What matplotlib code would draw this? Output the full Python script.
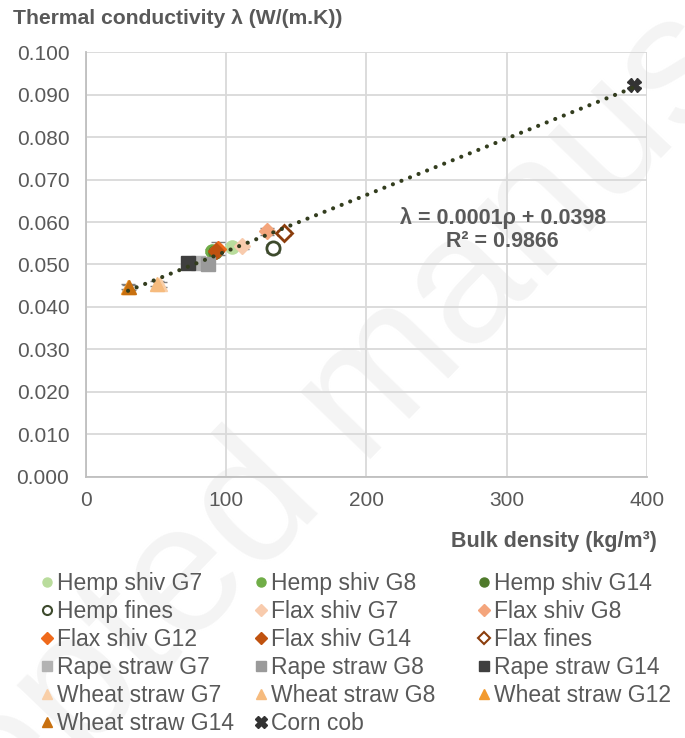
import numpy as np
import matplotlib.pyplot as plt
from matplotlib.lines import Line2D

plt.rcParams['font.family'] = ['Liberation Sans', 'DejaVu Sans']

# data
names = ['Hemp shiv G7', 'Hemp shiv G8', 'Hemp shiv G14', 'Hemp fines',
         'Flax shiv G7', 'Flax shiv G8', 'Flax shiv G12', 'Flax shiv G14',
         'Flax fines', 'Rape straw G7', 'Rape straw G8', 'Rape straw G14',
         'Wheat straw G7', 'Wheat straw G8', 'Wheat straw G12',
         'Wheat straw G14', 'Corn cob']
density = [104, 90, 92, 133, 111, 129, 94, 93, 141, 80, 87, 73, 53, 51, 30, 31, 391]
conductivity = [0.0542, 0.0532, 0.0530, 0.0538, 0.0543, 0.0578, 0.0537, 0.0532,
                0.0575, 0.0503, 0.0500, 0.0503, 0.0453, 0.0455, 0.0448, 0.0446, 0.0923]
error = [0.0006, 0.0005, 0.0005, 0.0008, 0.0007, 0.0008, 0.0015, 0.0005,
         0.0005, 0.0005, 0.0005, 0.0004, 0.0006, 0.0005, 0.0006, 0.0005, 0.0006]

colors = ['#b9dc9c', '#70ad47', '#4f7a2b', '#3d4a2c',
          '#f8cbad', '#f4a57c', '#ef6a1c', '#c0520f',
          '#8b3d0c', '#b3b3b3', '#9a9a9a', '#3f3f3f',
          '#f9cfa8', '#f6bb7e', '#f29a2e', '#c8700f', '#333333']
markers = ['o', 'o', 'o', 'o', 'D', 'D', 'D', 'D', 'D',
           's', 's', 's', '^', '^', '^', '^', 'X']
hollow = ['Hemp fines', 'Flax fines']

fig = plt.figure(figsize=(6.85, 7.38), dpi=100)
ax = fig.add_axes([0.1255, 0.3537, 0.819, 0.5758])
ax.patch.set_alpha(0)

# faint watermark behind everything
fig.text(0.52, 0.45, 'Accepted manuscript', fontsize=132, color='#f4f4f4',
         rotation=46, ha='center', va='center', zorder=-5)

handles = []
for i, n in enumerate(names):
    ms = 9.5 if markers[i] != 'D' else 8
    if n in hollow:
        fc, ec, mew = 'white', colors[i], 2
    else:
        fc, ec, mew = colors[i], colors[i], 1
    ax.errorbar(density[i], conductivity[i], yerr=error[i], fmt=markers[i],
                ms=ms, mfc=fc, mec=ec, mew=mew, ecolor='#7f7f7f',
                elinewidth=1, capsize=5, zorder=3)
    handles.append(Line2D([], [], ls='none', marker=markers[i],
                          ms=6.5 if markers[i] != 'X' else 8,
                          mfc=fc, mec=ec, mew=1.5 if n in hollow else 1,
                          label=n))

# linear trend line
slope, intercept = np.polyfit(density, conductivity, 1)
xs = np.array([min(density), max(density)])
ax.plot(xs, slope * xs + intercept, ls=(0, (0.01, 2.2)), lw=3.0,
        color='#333d1e', zorder=4, dash_capstyle='round')

ax.text(0.743, 0.609, '\u03bb = 0.0001\u03c1 + 0.0398', transform=ax.transAxes,
        ha='center', va='center', fontsize=15.5, fontweight='bold', color='#595959')
ax.text(0.743, 0.553, 'R\u00b2 = 0.9866', transform=ax.transAxes,
        ha='center', va='center', fontsize=15.5, fontweight='bold', color='#595959')

ax.set_xlim(0, 400)
ax.set_ylim(0, 0.1)
ax.set_xticks(np.arange(0, 401, 100))
ax.set_yticks(np.arange(0, 0.1001, 0.01))
ax.set_yticklabels(['%.3f' % v for v in np.arange(0, 0.1001, 0.01)])
ax.grid(True, color='#d9d9d9', lw=1.3)
ax.set_axisbelow(True)
for s in ['top', 'right']:
    ax.spines[s].set_visible(False)
for s in ['left', 'bottom']:
    ax.spines[s].set_color('#bfbfbf')
    ax.spines[s].set_linewidth(1.3)
ax.tick_params(length=0, labelsize=15, labelcolor='#595959')
ax.tick_params(axis='y', pad=12)
ax.tick_params(axis='x', pad=10)

fig.text(13 / 685, 1 - 18 / 738, 'Thermal conductivity \u03bb (W/(m.K))',
         fontsize=15.2, fontweight='bold', color='#595959', ha='left', va='center')
fig.text(657 / 685, 1 - 541 / 738, 'Bulk density (kg/m\u00b3)',
         fontsize=15.5, fontweight='bold', color='#595959', ha='right', va='center')

# legend: three columns, placed one by one
columns = [[0, 3, 6, 9, 12, 15], [1, 4, 7, 10, 13, 16], [2, 5, 8, 11, 14]]
col_x = [42, 256, 479]
for col, x0 in zip(columns, col_x):
    leg = fig.legend([handles[k] for k in col], [names[k] for k in col],
                     loc='upper left', bbox_to_anchor=(x0 / 685, 1 - 572 / 738),
                     frameon=False, fontsize=16.5, handlelength=0.45,
                     handletextpad=0.2, labelspacing=0.215, borderaxespad=0,
                     borderpad=0)
    for t in leg.get_texts():
        t.set_color('#595959')

fig.savefig('out.png', dpi=100)
